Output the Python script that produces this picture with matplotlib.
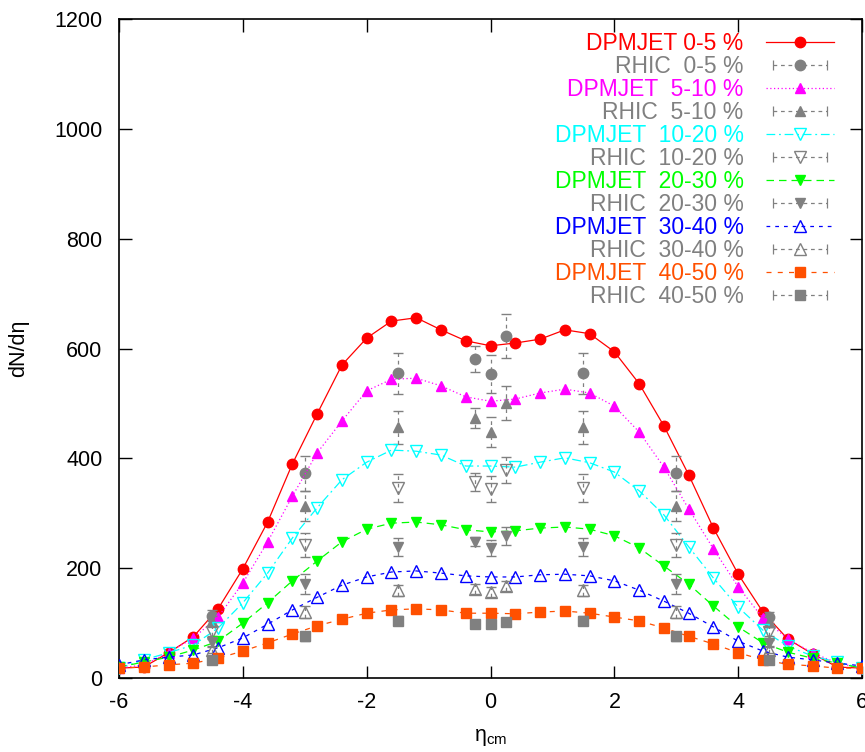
import matplotlib
matplotlib.use('Agg')
import matplotlib.pyplot as plt
from matplotlib.lines import Line2D
from matplotlib.legend_handler import HandlerLine2D, HandlerTuple
import numpy as np

plt.rcParams['font.family'] = ['Liberation Sans', 'DejaVu Sans']
plt.rcParams['axes.unicode_minus'] = False

# DPMJET curves
eta_dpm = [-6.0, -5.6, -5.2, -4.8, -4.4, -4.0, -3.6, -3.2, -2.8, -2.4, -2.0, -1.6,
           -1.2, -0.8, -0.4, 0.0, 0.4, 0.8, 1.2, 1.6, 2.0, 2.4, 2.8, 3.2, 3.6,
           4.0, 4.4, 4.8, 5.2, 5.6, 6.0]
dpm_0_5 = [18, 20, 46, 75, 126, 199, 284, 390, 481, 570, 619, 650, 656, 634, 614,
           605, 610, 617, 634, 627, 594, 536, 459, 370, 273, 189, 120, 71, 44, 20, 18]
dpm_5_10 = [18, 24, 46, 73, 111, 173, 248, 331, 410, 468, 523, 544, 546, 532, 512,
            504, 508, 519, 526, 519, 495, 448, 384, 308, 235, 166, 109, 71, 46, 27, 18]
dpm_10_20 = [18, 33, 46, 60, 91, 137, 191, 255, 310, 361, 393, 415, 413, 406, 386,
             386, 384, 393, 401, 392, 375, 341, 297, 239, 182, 129, 87, 58, 40, 29, 18]
dpm_20_30 = [20, 29, 38, 51, 67, 100, 137, 177, 213, 248, 271, 282, 284, 279, 270,
             266, 268, 273, 275, 271, 259, 237, 204, 171, 131, 93, 64, 47, 36, 27, 18]
dpm_30_40 = [24, 33, 38, 42, 55, 73, 98, 124, 147, 169, 184, 193, 195, 191, 186,
             184, 184, 188, 189, 186, 177, 160, 140, 118, 93, 67, 49, 38, 33, 27, 22]
dpm_40_50 = [18, 20, 24, 27, 36, 49, 64, 80, 95, 107, 118, 124, 126, 124, 118,
             118, 117, 120, 122, 118, 111, 104, 91, 76, 62, 46, 33, 25, 22, 18, 18]

# RHIC data
eta_rhic = [-4.5, -3.0, -1.5, -0.25, 0.0, 0.25, 1.5, 3.0, 4.5]
rhic_0_5 = [113, 373, 555, 581, 554, 623, 555, 373, 111]
rhic_5_10 = [104, 313, 457, 473, 448, 501, 457, 313, 102]
rhic_10_20 = [84, 242, 346, 357, 344, 379, 346, 242, 84]
rhic_20_30 = [65, 171, 239, 248, 237, 259, 239, 171, 64]
rhic_30_40 = [51, 120, 160, 162, 157, 168, 160, 120, 51]
rhic_40_50 = [33, 76, 104, 98, 98, 102, 104, 76, 33]
err_0_5 = [10, 32, 37, 23, 35, 40, 37, 32, 10]
err_5_10 = [9, 27, 30, 18, 27, 31, 30, 27, 9]
err_10_20 = [8, 22, 25, 16, 24, 23, 25, 22, 8]
err_20_30 = [6, 18, 16, 8, 15, 16, 16, 18, 6]
err_30_40 = [5, 11, 10, 9, 9, 9, 10, 11, 5]
err_40_50 = [4, 8, 8, 7, 7, 7, 8, 8, 4]

centr = ['0-5', '5-10', '10-20', '20-30', '30-40', '40-50']
dpm = [dpm_0_5, dpm_5_10, dpm_10_20, dpm_20_30, dpm_30_40, dpm_40_50]
rhic = [rhic_0_5, rhic_5_10, rhic_10_20, rhic_20_30, rhic_30_40, rhic_40_50]
errs = [err_0_5, err_5_10, err_10_20, err_20_30, err_30_40, err_40_50]

colors = ['#ff0000', '#ff00ff', '#00ffff', '#00ff00', '#0000ff', '#ff5000']
styles = ['-', (0, (1, 2)), (0, (7, 3, 1.5, 3)), (0, (6, 4)), (0, (3, 4)), (0, (4, 5))]
markers = ['o', '^', 'v', 'v', '^', 's']
msizes = [7.5, 7.5, 8, 7.5, 8, 7]
filled = [True, True, False, True, False, True]
gray = '#808080'

fig = plt.figure(figsize=(8.65, 7.52), dpi=100)
ax = fig.add_axes([0.1376, 0.0984, 0.8590, 0.8763])

handles = []
labels = []
label_colors = []
hmap = {}
z = 3
for i in range(6):
    fc = colors[i] if filled[i] else 'none'
    ln, = ax.plot(eta_dpm, dpm[i], color=colors[i], ls=styles[i], lw=0.9,
                  marker=markers[i], ms=msizes[i], mfc=fc, mec=colors[i],
                  mew=1.0, zorder=z)
    z += 1
    gfc = gray if filled[i] else 'none'
    eb = ax.errorbar(eta_rhic, rhic[i], yerr=errs[i], fmt=markers[i], ms=msizes[i],
                     mfc=gfc, mec=gray, mew=1.0, ecolor=gray, elinewidth=0.9,
                     capsize=3.5, capthick=0.9, zorder=z)
    eb[2][0].set_linestyle((0, (3, 3)))
    z += 1

    handles.append(ln)
    labels.append(('DPMJET ' if i == 0 else 'DPMJET  ') + centr[i] + ' %')
    label_colors.append(colors[i])

    hl = Line2D([], [], color=gray, ls=(0, (3, 3)), lw=0.9, marker='|', ms=7,
                mew=0.9)
    hm = Line2D([], [], ls='none', marker=markers[i], ms=msizes[i], mfc=gfc,
                mec=gray, mew=1.0)
    hmap[hl] = HandlerLine2D(numpoints=2)
    handles.append((hl, hm))
    labels.append('RHIC  ' + centr[i] + ' %')
    label_colors.append(gray)

hmap[tuple] = HandlerTuple(ndivide=1)
ax.legend(handles, labels, loc='upper right', bbox_to_anchor=(0.9623, 0.980),
          frameon=False, fontsize=16.5, labelspacing=0.0, handlelength=2.95,
          handletextpad=1.0, borderpad=0, borderaxespad=0, markerfirst=False,
          labelcolor=label_colors, handler_map=hmap)

ax.set_xlim(-6, 6)
ax.set_ylim(0, 1200)
ax.set_xticks([-6, -4, -2, 0, 2, 4, 6])
ax.set_yticks([0, 200, 400, 600, 800, 1000, 1200])
ax.tick_params(direction='in', length=9, width=1, labelsize=15.5, pad=10,
               top=True, right=True)
ax.tick_params(axis='y', pad=12)
for s in ax.spines.values():
    s.set_linewidth(1.2)

ax.set_ylabel('dN/dη', fontsize=15.5, labelpad=18)
ax.set_xlabel('η$_{\\mathregular{cm}}$', fontsize=15.5, labelpad=10)

fig.savefig('out.png', dpi=100)
